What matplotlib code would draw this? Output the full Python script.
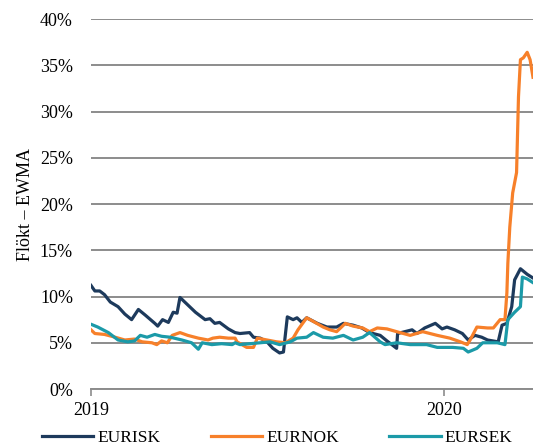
import matplotlib
matplotlib.use("Agg")
import matplotlib.pyplot as plt
import matplotlib.dates as mdates
import pandas as pd
from matplotlib.ticker import FuncFormatter

# EURISK
isk_dates = ["2019-01-01", "2019-01-05", "2019-01-10", "2019-01-15", "2019-01-21", "2019-01-29",
             "2019-02-05", "2019-02-12", "2019-02-19", "2019-02-26", "2019-03-08", "2019-03-11",
             "2019-03-16", "2019-03-22", "2019-03-27", "2019-03-31", "2019-04-03", "2019-04-08",
             "2019-04-19", "2019-04-29", "2019-05-04", "2019-05-09", "2019-05-14", "2019-05-23",
             "2019-05-30", "2019-06-04", "2019-06-14", "2019-06-18", "2019-06-25", "2019-07-02",
             "2019-07-08", "2019-07-15", "2019-07-19", "2019-07-23", "2019-07-29", "2019-08-02",
             "2019-08-07", "2019-08-12", "2019-08-23", "2019-09-02", "2019-09-12", "2019-09-19",
             "2019-09-29", "2019-10-08", "2019-10-16", "2019-10-27", "2019-11-03", "2019-11-13",
             "2019-11-14", "2019-11-29", "2019-12-04", "2019-12-12", "2019-12-23", "2019-12-30",
             "2020-01-04", "2020-01-12", "2020-01-20", "2020-01-26", "2020-02-02", "2020-02-09",
             "2020-02-15", "2020-02-26", "2020-03-01", "2020-03-06", "2020-03-11", "2020-03-14",
             "2020-03-20", "2020-03-27", "2020-04-02"]
isk_vals = [11.2, 10.6, 10.6, 10.2, 9.4, 8.9,
            8.1, 7.5, 8.6, 8.0, 7.1, 6.8,
            7.5, 7.2, 8.3, 8.2, 9.9, 9.4,
            8.3, 7.5, 7.6, 7.1, 7.2, 6.5,
            6.1, 6.0, 6.1, 5.6, 5.5, 5.1,
            4.4, 3.9, 4.0, 7.8, 7.5, 7.7,
            7.2, 7.7, 7.1, 6.7, 6.7, 7.1,
            6.9, 6.6, 6.1, 5.8, 5.2, 4.4,
            6.0, 6.4, 6.0, 6.6, 7.1, 6.5,
            6.7, 6.4, 6.0, 5.3, 5.8, 5.6,
            5.3, 5.1, 6.9, 7.1, 8.9, 11.8,
            13.0, 12.4, 12.0]

# EURNOK
nok_dates = ["2019-01-01", "2019-01-05", "2019-01-15", "2019-01-26", "2019-02-05", "2019-02-15",
             "2019-02-23", "2019-03-05", "2019-03-10", "2019-03-15", "2019-03-21", "2019-03-26",
             "2019-04-03", "2019-04-11", "2019-04-22", "2019-05-02", "2019-05-07", "2019-05-14",
             "2019-05-23", "2019-05-30", "2019-06-01", "2019-06-11", "2019-06-18", "2019-06-22",
             "2019-07-02", "2019-07-12", "2019-07-21", "2019-07-29", "2019-08-03", "2019-08-12",
             "2019-08-19", "2019-08-29", "2019-09-05", "2019-09-12", "2019-09-21", "2019-09-29",
             "2019-10-09", "2019-10-16", "2019-10-24", "2019-11-03", "2019-11-13", "2019-11-27",
             "2019-12-10", "2019-12-25", "2020-01-07", "2020-01-18", "2020-01-25", "2020-01-28",
             "2020-02-04", "2020-02-15", "2020-02-21", "2020-02-28", "2020-03-04", "2020-03-06",
             "2020-03-07", "2020-03-09", "2020-03-12", "2020-03-16", "2020-03-18", "2020-03-20",
             "2020-03-23", "2020-03-27", "2020-03-30", "2020-04-02"]
nok_vals = [6.4, 6.0, 5.9, 5.6, 5.3, 5.4,
            5.1, 5.0, 4.8, 5.2, 5.0, 5.8,
            6.1, 5.8, 5.5, 5.3, 5.5, 5.6,
            5.5, 5.5, 5.1, 4.5, 4.5, 5.5,
            5.3, 5.1, 5.0, 5.5, 6.4, 7.7,
            7.3, 6.7, 6.4, 6.2, 7.1, 6.8,
            6.6, 6.2, 6.6, 6.5, 6.2, 5.8,
            6.2, 5.8, 5.5, 5.1, 4.8, 5.3,
            6.7, 6.6, 6.6, 7.5, 7.5, 10.4,
            13.6, 17.5, 21.2, 23.4, 31.6, 35.6,
            35.8, 36.4, 35.6, 33.7]

# EURSEK
sek_dates = ["2019-01-01", "2019-01-08", "2019-01-19", "2019-01-29", "2019-02-08", "2019-02-15",
             "2019-02-21", "2019-02-28", "2019-03-08", "2019-03-15", "2019-03-24", "2019-04-05",
             "2019-04-15", "2019-04-22", "2019-04-26", "2019-05-06", "2019-05-16", "2019-05-27",
             "2019-05-30", "2019-06-04", "2019-06-25", "2019-07-05", "2019-07-15", "2019-07-26",
             "2019-08-02", "2019-08-12", "2019-08-19", "2019-08-29", "2019-09-08", "2019-09-19",
             "2019-09-29", "2019-10-09", "2019-10-16", "2019-10-27", "2019-11-01", "2019-11-13",
             "2019-11-27", "2019-12-14", "2019-12-25", "2020-01-10", "2020-01-21", "2020-01-26",
             "2020-02-04", "2020-02-10", "2020-02-25", "2020-03-04", "2020-03-07", "2020-03-14",
             "2020-03-20", "2020-03-22", "2020-03-27", "2020-04-02"]
sek_vals = [7.0, 6.7, 6.1, 5.3, 5.1, 5.2,
            5.8, 5.6, 5.9, 5.7, 5.6, 5.3,
            5.0, 4.3, 5.0, 4.8, 4.9, 4.8,
            5.0, 4.8, 5.0, 5.1, 4.8, 5.1,
            5.5, 5.6, 6.1, 5.6, 5.5, 5.8,
            5.3, 5.6, 6.1, 5.1, 4.8, 5.0,
            4.8, 4.8, 4.5, 4.5, 4.4, 4.0,
            4.4, 5.0, 5.0, 4.8, 7.5, 8.3,
            8.9, 12.1, 11.9, 11.5]

series = [
    ("EURISK", isk_dates, isk_vals, "#1d3a5c"),
    ("EURNOK", nok_dates, nok_vals, "#f7802a"),
    ("EURSEK", sek_dates, sek_vals, "#1b9aa8"),
]

plt.rcParams['font.family'] = ['Liberation Serif', 'DejaVu Serif']
FS = 13

fig = plt.figure(figsize=(5.33, 4.45), dpi=100)
ax = fig.add_axes([0.1707, 0.1258, 0.8293, 0.8315])

for name, d, v, c in series:
    ax.plot(pd.to_datetime(d), [x / 100 for x in v], color=c, lw=2.3, label=name,
            solid_joinstyle='round', zorder=3)

ax.set_ylim(0, 0.40)
ax.set_yticks([i / 100 for i in range(0, 41, 5)])
ax.yaxis.set_major_formatter(FuncFormatter(lambda y, _: f"{y*100:.0f}%"))
ax.set_xlim(pd.Timestamp("2019-01-01"), pd.Timestamp("2020-04-02"))
ax.set_xticks([pd.Timestamp("2019-01-01"), pd.Timestamp("2020-01-01")])
ax.xaxis.set_major_formatter(mdates.DateFormatter("%Y"))

ax.grid(axis='y', color='#8c8c8c', lw=1.4, zorder=1)
for s in ['left', 'right', 'top']:
    ax.spines[s].set_visible(False)
ax.spines['bottom'].set_color('#8c8c8c')
ax.spines['bottom'].set_linewidth(1.4)
ax.tick_params(axis='y', length=0, pad=13, labelsize=FS)
ax.tick_params(axis='x', length=5, width=1.2, color='#8c8c8c', pad=4, labelsize=FS)

ax.set_ylabel("Flökt – EWMA", fontsize=FS, labelpad=4)

fig.legend(loc='center', bbox_to_anchor=(0.52, 0.016), ncol=3, frameon=False,
           fontsize=12.5, handlelength=2.95, handletextpad=0.25, columnspacing=2.9,
           borderaxespad=0)

fig.savefig("out.png", dpi=100)
